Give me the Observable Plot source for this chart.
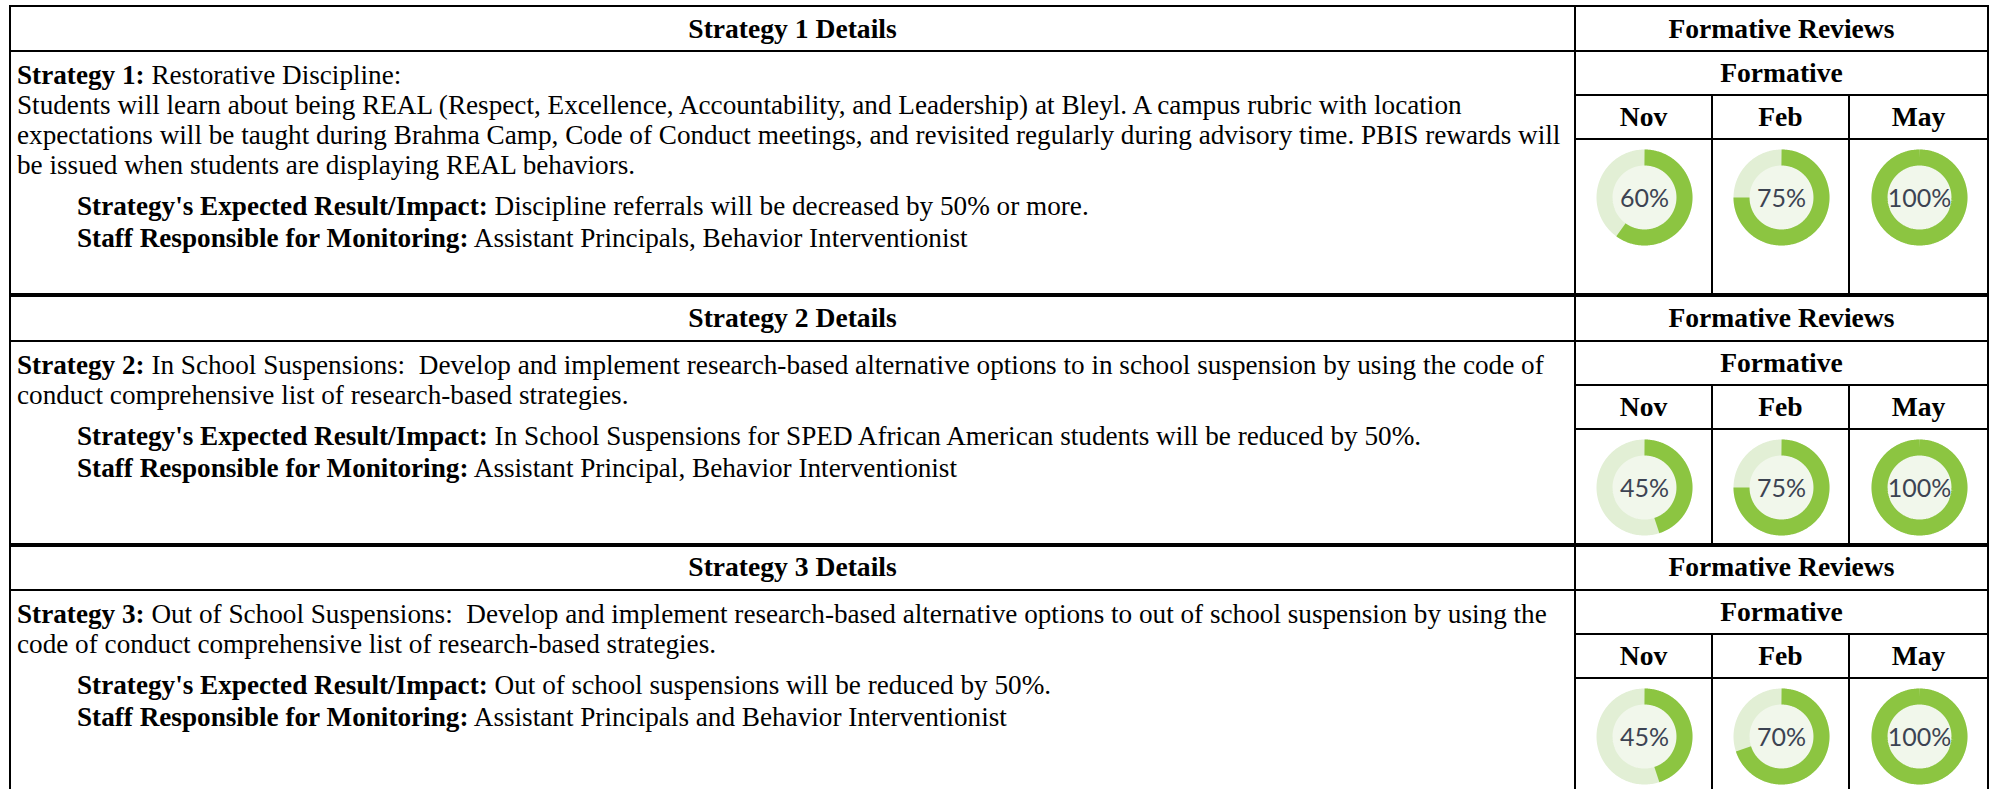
<!DOCTYPE html>
<html><head><meta charset="utf-8">
<script src="https://cdn.jsdelivr.net/npm/d3@7"></script>
<script src="https://cdn.jsdelivr.net/npm/@observablehq/plot@0.6"></script>
<style>
html,body{margin:0;padding:0;background:#fff;}
#page{position:relative;width:1993px;height:789px;overflow:hidden;font-family:"Liberation Serif","Times New Roman",serif;color:#000;}
.ln{position:absolute;background:#000;}
.hdr{position:absolute;display:flex;align-items:center;justify-content:center;font-weight:bold;font-size:27.6px;white-space:nowrap;}
.body{position:absolute;font-size:27.2px;line-height:30.2px;white-space:pre;}
.body div{height:30.2px;}
.donut{position:absolute;}
.donut svg{display:block;}
</style></head><body><div id="page"></div>
<script>
// ---------- data ----------
const strategyIds = ["Strategy 1", "Strategy 2", "Strategy 3"];
const months = ["Nov", "Feb", "May"];
const novValues = [60, 45, 45];
const febValues = [75, 75, 70];
const mayValues = [100, 100, 100];
const firstLines = [
  "Restorative Discipline:",
  "In School Suspensions:  Develop and implement research-based alternative options to in school suspension by using the code of",
  "Out of School Suspensions:  Develop and implement research-based alternative options to out of school suspension by using the"
];
const moreLines = [
  ["Students will learn about being REAL (Respect, Excellence, Accountability, and Leadership) at Bleyl. A campus rubric with location",
   "expectations will be taught during Brahma Camp, Code of Conduct meetings, and revisited regularly during advisory time. PBIS rewards will",
   "be issued when students are displaying REAL behaviors."],
  ["conduct comprehensive list of research-based strategies."],
  ["code of conduct comprehensive list of research-based strategies."]
];
const expectedResults = [
  "Discipline referrals will be decreased by 50% or more.",
  "In School Suspensions for SPED African American students will be reduced by 50%.",
  "Out of school suspensions will be reduced by 50%."
];
const staffResponsible = [
  "Assistant Principals, Behavior Interventionist",
  "Assistant Principal, Behavior Interventionist",
  "Assistant Principals and Behavior Interventionist"
];
const reviewTitle = "Formative Reviews";
const reviewSub = "Formative";
const expectedLabel = "Strategy's Expected Result/Impact:";
const staffLabel = "Staff Responsible for Monitoring:";

// ---------- layout ----------
const L = {left: 10, split: 1575, right: 1988, sub: [1712, 1849],
  top: [6, 294.5, 544.5], hb: [51, 341, 590], fb: [95, 385, 634], mb: [139, 429, 678], bot: [294.5, 544.5, 820]};
const page = document.getElementById("page");

function hline(x1, x2, y, t) {
  const d = document.createElement("div"); d.className = "ln";
  Object.assign(d.style, {left: x1 - 1 + "px", top: y - t / 2 + "px", width: x2 - x1 + 2 + "px", height: t + "px"});
  page.appendChild(d);
}
function vline(x, y1, y2, t) {
  const d = document.createElement("div"); d.className = "ln";
  Object.assign(d.style, {left: x - t / 2 + "px", top: y1 + "px", width: t + "px", height: y2 - y1 + "px"});
  page.appendChild(d);
}
function header(text, x1, x2, y1, y2) {
  const d = document.createElement("div"); d.className = "hdr";
  Object.assign(d.style, {left: x1 + "px", top: y1 + "px", width: x2 - x1 + "px", height: y2 - y1 + "px"});
  d.textContent = text; page.appendChild(d);
}
function labeled(parent, label, text, indent, marginTop) {
  const row = document.createElement("div");
  if (indent) row.style.paddingLeft = indent + "px";
  if (marginTop) row.style.marginTop = marginTop + "px";
  const b = document.createElement("b"); b.textContent = label;
  row.appendChild(b); row.appendChild(document.createTextNode(" " + text));
  parent.appendChild(row);
}

function donut(v) {
  const R = 40, steps = 240;
  const track = d3.range(steps + 1).map(i => ({a: i / steps * 2 * Math.PI}));
  const arc = d3.range(steps + 1).map(i => ({a: i / steps * 2 * Math.PI * v / 100}));
  return Plot.plot({
    width: 116, height: 116, margin: 0,
    x: {domain: [-58, 58], axis: null}, y: {domain: [-58, 58], axis: null},
    style: {background: "transparent", overflow: "visible"},
    marks: [
      Plot.dot([v], {x: () => 0, y: () => 0, r: 33, fill: "#f1f7eb", stroke: null}),
      Plot.line(track, {x: d => R * Math.sin(d.a), y: d => R * Math.cos(d.a), stroke: "#e2efd5", strokeWidth: 16}),
      Plot.line(arc, {x: d => R * Math.sin(d.a), y: d => R * Math.cos(d.a), stroke: "#8cc541", strokeWidth: 16, strokeLinecap: "butt"}),
      Plot.text([v], {x: () => 0, y: () => 0, text: d => `${d}%`, fontSize: 25, fontFamily: "Lato", fill: "#3c4352", dy: 1})
    ]
  });
}

const values = [novValues, febValues, mayValues];
const colX = [L.split, L.sub[0], L.sub[1], L.right];

strategyIds.forEach((id, i) => {
  header(id + " Details", L.left, L.split, L.top[i], L.hb[i]);
  header(reviewTitle, L.split, L.right, L.top[i], L.hb[i]);
  header(reviewSub, L.split, L.right, L.hb[i], L.fb[i]);
  months.forEach((m, j) => header(m, colX[j], colX[j + 1], L.fb[i], L.mb[i]));
  const body = document.createElement("div"); body.className = "body";
  Object.assign(body.style, {left: "17px", top: L.hb[i] + 24 - 15.1 + "px"});
  labeled(body, id + ":", firstLines[i], 0, 0);
  moreLines[i].forEach(t => { const r = document.createElement("div"); r.textContent = t; body.appendChild(r); });
  labeled(body, expectedLabel, expectedResults[i], 60, 10.5);
  labeled(body, staffLabel, staffResponsible[i], 60, 2);
  page.appendChild(body);
  months.forEach((m, j) => {
    const holder = document.createElement("div"); holder.className = "donut";
    const cx = (colX[j] + colX[j + 1]) / 2, cy = L.mb[i] + 58;
    Object.assign(holder.style, {left: cx - 58 + "px", top: cy - 58 + "px"});
    holder.appendChild(donut(values[j][i]));
    page.appendChild(holder);
  });
  hline(L.left, L.right, L.top[i], i === 0 ? 2.5 : 4);
  hline(L.left, L.right, L.hb[i], 2.5);
  hline(L.split, L.right, L.fb[i], 2.5);
  hline(L.split, L.right, L.mb[i], 2.5);
  vline(L.sub[0], L.fb[i], L.bot[i], 2.5);
  vline(L.sub[1], L.fb[i], L.bot[i], 2.5);
});
vline(L.left, L.top[0], 820, 2.5);
vline(L.split, L.top[0], 820, 2.5);
vline(L.right, L.top[0], 820, 2.5);
</script></body></html>
